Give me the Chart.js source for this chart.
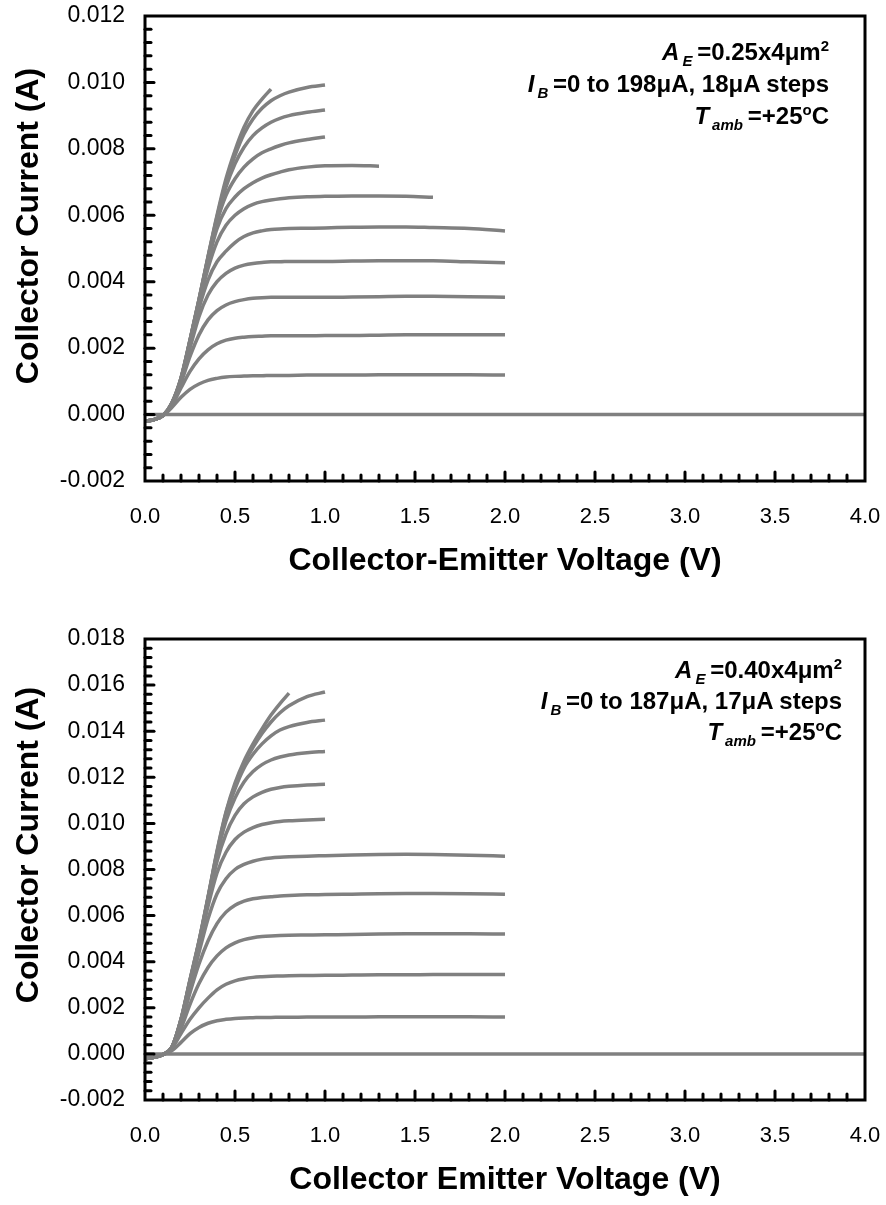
<!DOCTYPE html>
<html><head><meta charset="utf-8">
<script src="https://cdn.jsdelivr.net/npm/chart.js@4.4.1/dist/chart.umd.min.js"></script>
<style>
html,body{margin:0;padding:0;background:#fff;width:886px;height:1205px;overflow:hidden;font-family:"Liberation Sans",Arial,sans-serif;}
.wrap{position:absolute;left:0;width:886px;}
canvas{display:block;}
.note{position:absolute;text-align:right;font-weight:bold;font-size:24px;line-height:31px;color:#000;white-space:nowrap;}
.note i{font-style:italic;}
.note sub,.note sup{font-size:15px;line-height:0;}
</style></head>
<body>
<div class="wrap" style="top:0;height:600px"><canvas id="c1" width="886" height="600"></canvas></div>
<div class="wrap" style="top:620px;height:585px"><canvas id="c2" width="886" height="585"></canvas></div>
<div class="note" style="right:57px;top:36px;line-height:32px"><i>A</i><sub><i>&thinsp;E</i></sub>&thinsp;=0.25x4μm<sup>2</sup><br><i>I</i><sub><i>&thinsp;B</i></sub>&thinsp;=0 to 198μA, 18μA steps<br><i>T</i><sub><i>&thinsp;amb</i></sub>&thinsp;=+25<sup>o</sup>C</div>
<div class="note" style="right:44px;top:654px"><i>A</i><sub><i>&thinsp;E</i></sub>&thinsp;=0.40x4μm<sup>2</sup><br><i>I</i><sub><i>&thinsp;B</i></sub>&thinsp;=0 to 187μA, 17μA steps<br><i>T</i><sub><i>&thinsp;amb</i></sub>&thinsp;=+25<sup>o</sup>C</div>
<script>
// Collector-emitter voltage grid (V)
const vce = [0,0.05,0.1,0.15,0.2,0.25,0.3,0.35,0.4,0.45,0.5,0.55,0.6,0.65,0.7,0.75,0.8,0.9,1.0,1.15,1.3,1.45,1.6,1.8,2.0,2.5,3.0,3.5,4.0];

// Top chart: AE=0.25x4um2, IB = 0..198uA, 18uA steps. Collector current in mA.
const topIb000 = [0,0,0,0,0,0,0,0,0,0,0,0,0,0,0,0,0,0,0,0,0,0,0,0,0,0,0,0,0];
const topIb018 = [-0.20,-0.15,-0.03,0.22,0.52,0.76,0.92,1.03,1.09,1.13,1.15,1.16,1.17,1.17,1.18,1.18,1.18,1.19,1.19,1.19,1.20,1.20,1.20,1.20,1.19];
const topIb036 = [-0.20,-0.15,-0.03,0.27,0.80,1.30,1.68,1.95,2.13,2.24,2.30,2.33,2.35,2.36,2.37,2.37,2.37,2.37,2.38,2.38,2.39,2.40,2.40,2.40,2.40];
const topIb054 = [-0.20,-0.15,-0.03,0.30,0.95,1.75,2.40,2.85,3.13,3.30,3.40,3.46,3.50,3.52,3.53,3.53,3.53,3.53,3.53,3.54,3.55,3.56,3.56,3.55,3.53];
const topIb072 = [-0.20,-0.15,-0.03,0.32,1.00,2.00,2.95,3.60,4.00,4.25,4.41,4.50,4.55,4.58,4.60,4.60,4.61,4.61,4.61,4.62,4.63,4.63,4.63,4.60,4.57];
const topIb090 = [-0.20,-0.15,-0.03,0.33,1.03,2.12,3.20,4.05,4.60,4.92,5.18,5.36,5.47,5.53,5.57,5.59,5.60,5.61,5.62,5.64,5.65,5.65,5.63,5.60,5.53];
const topIb108 = [-0.20,-0.15,-0.03,0.34,1.05,2.17,3.35,4.40,5.20,5.70,6.00,6.20,6.33,6.41,6.46,6.50,6.53,6.56,6.57,6.58,6.58,6.57,6.54];
const topIb126 = [-0.20,-0.15,-0.03,0.34,1.07,2.20,3.40,4.60,5.60,6.20,6.55,6.80,6.98,7.12,7.22,7.30,7.37,7.45,7.49,7.50,7.48];
const topIb144 = [-0.20,-0.15,-0.03,0.35,1.08,2.22,3.43,4.68,5.80,6.60,7.10,7.45,7.70,7.88,8.00,8.10,8.18,8.28,8.36];
const topIb162 = [-0.20,-0.15,-0.03,0.35,1.09,2.23,3.45,4.72,5.90,6.85,7.55,8.05,8.40,8.63,8.80,8.92,9.00,9.10,9.17];
const topIb180 = [-0.20,-0.15,-0.03,0.36,1.10,2.24,3.46,4.74,5.95,7.00,7.80,8.45,8.90,9.22,9.45,9.60,9.71,9.85,9.92];
const topIb198 = [-0.20,-0.15,-0.03,0.36,1.10,2.25,3.47,4.75,6.00,7.10,7.95,8.65,9.15,9.50,9.80];

// Bottom chart: AE=0.40x4um2, IB = 0..187uA, 17uA steps. Collector current in mA.
const botIb000 = [0,0,0,0,0,0,0,0,0,0,0,0,0,0,0,0,0,0,0,0,0,0,0,0,0,0,0,0,0];
const botIb017 = [-0.20,-0.15,-0.03,0.15,0.50,0.88,1.15,1.33,1.44,1.50,1.54,1.56,1.57,1.58,1.58,1.59,1.59,1.60,1.60,1.60,1.61,1.61,1.61,1.61,1.60];
const botIb034 = [-0.20,-0.15,-0.03,0.25,0.88,1.50,2.00,2.42,2.78,3.02,3.17,3.26,3.32,3.35,3.37,3.38,3.39,3.40,3.41,3.42,3.43,3.43,3.44,3.44,3.44];
const botIb051 = [-0.20,-0.15,-0.03,0.28,1.10,2.15,3.05,3.75,4.25,4.60,4.82,4.96,5.04,5.09,5.12,5.14,5.15,5.16,5.17,5.18,5.20,5.21,5.21,5.21,5.20];
const botIb068 = [-0.20,-0.15,-0.03,0.29,1.25,2.65,3.90,4.90,5.65,6.15,6.45,6.63,6.73,6.79,6.82,6.85,6.87,6.90,6.91,6.93,6.95,6.96,6.96,6.95,6.93];
const botIb085 = [-0.20,-0.15,-0.03,0.30,1.35,2.90,4.40,5.85,6.95,7.60,8.00,8.22,8.36,8.45,8.50,8.53,8.55,8.58,8.60,8.63,8.65,8.66,8.65,8.62,8.58];
const botIb102 = [-0.20,-0.15,-0.03,0.30,1.40,3.00,4.65,6.40,7.85,8.75,9.30,9.62,9.82,9.95,10.03,10.08,10.11,10.15,10.18];
const botIb119 = [-0.20,-0.15,-0.03,0.30,1.45,3.10,4.78,6.62,8.35,9.55,10.35,10.85,11.15,11.35,11.48,11.56,11.61,11.67,11.70];
const botIb136 = [-0.20,-0.15,-0.03,0.30,1.48,3.15,4.83,6.72,8.62,10.10,11.10,11.80,12.25,12.55,12.75,12.88,12.97,13.07,13.12];
const botIb153 = [-0.20,-0.15,-0.03,0.30,1.50,3.18,4.86,6.75,8.70,10.35,11.50,12.40,13.00,13.45,13.80,14.05,14.20,14.38,14.48];
const botIb170 = [-0.20,-0.15,-0.03,0.30,1.50,3.20,4.88,6.78,8.75,10.45,11.65,12.60,13.30,13.90,14.40,14.80,15.10,15.50,15.70];
const botIb187 = [-0.20,-0.15,-0.03,0.30,1.50,3.22,4.90,6.80,8.80,10.50,11.75,12.70,13.45,14.10,14.70,15.20,15.65];

// Axis ranges / labels
const xMin = 0, xMax = 4, xStep = 0.5;
const topYMin = -0.002, topYMax = 0.012;
const botYMin = -0.002, botYMax = 0.018;
const yStep = 0.002;
const yTitle = 'Collector Current (A)';
const topXTitle = 'Collector-Emitter Voltage (V)';
const botXTitle = 'Collector Emitter Voltage (V)';

const FONT = '"Liberation Sans", Arial, sans-serif';

const framePlugin = {
  id: 'frame',
  afterDraw(chart, args, opts) {
    const {ctx, chartArea: a, scales: {x, y}} = chart;
    ctx.save();
    ctx.strokeStyle = '#000';
    ctx.lineWidth = 3;
    ctx.lineCap = 'round';
    const nx = Math.round((x.max - x.min) / 0.1);
    for (let k = 1; k < nx; k++) {
      const px = x.getPixelForValue(x.min + k * 0.1);
      const len = (k % 5 === 0) ? 9 : 6;
      ctx.beginPath(); ctx.moveTo(px, a.bottom); ctx.lineTo(px, a.bottom - len); ctx.stroke();
    }
    const ny = Math.round((y.max - y.min) / 0.0004);
    for (let k = 1; k < ny; k++) {
      const py = y.getPixelForValue(y.min + k * 0.0004);
      const len = (k % 5 === 0) ? 9 : 6;
      ctx.beginPath(); ctx.moveTo(a.left, py); ctx.lineTo(a.left + len, py); ctx.stroke();
    }
    ctx.lineCap = 'butt';
    ctx.strokeRect(a.left, a.top, a.right - a.left, a.bottom - a.top);
    ctx.fillStyle = '#000';
    ctx.font = 'bold 32px ' + FONT;
    ctx.textAlign = 'center';
    ctx.textBaseline = 'middle';
    ctx.translate(opts.titleX, a.top + opts.titleDy);
    ctx.rotate(-Math.PI / 2);
    ctx.fillText(opts.text, 0, 0);
    ctx.restore();
  }
};

function makeChart(id, curves, yMin, yMax, xTitle, padTop, xH, titlePadBottom, titleDy) {
  const datasets = curves.map(c => ({
    data: c.map((v, i) => ({x: vce[i], y: v / 1000})),
    borderColor: '#808080',
    borderWidth: 3.5,
    pointRadius: 0,
    fill: false,
    cubicInterpolationMode: 'monotone'
  }));
  return new Chart(document.getElementById(id), {
    type: 'line',
    data: {datasets},
    plugins: [framePlugin],
    options: {
      responsive: false,
      animation: false,
      devicePixelRatio: 1,
      events: [],
      layout: {padding: {top: padTop, right: 21, left: 0, bottom: 0}},
      plugins: {
        legend: {display: false},
        tooltip: {enabled: false},
        frame: {text: yTitle, titleX: 29, titleDy: titleDy}
      },
      scales: {
        x: {
          type: 'linear', min: xMin, max: xMax,
          ticks: {stepSize: xStep, color: '#000', font: {family: FONT, size: 22}, padding: 23,
                  maxRotation: 0, autoSkip: false, callback: v => Number(v).toFixed(1)},
          grid: {display: false, drawTicks: false},
          border: {display: false},
          title: {display: true, text: xTitle, color: '#000',
                  font: {family: FONT, size: 32, weight: 'bold'}, padding: {top: 0, bottom: titlePadBottom}},
          afterFit(s) { s.height = xH; s.paddingLeft = 0; s.paddingRight = 0; }
        },
        y: {
          type: 'linear', min: yMin, max: yMax,
          ticks: {stepSize: yStep, color: '#000', font: {family: FONT, size: 23}, padding: 20,
                  callback: v => (Math.abs(v) < 1e-9 ? 0 : v).toFixed(3)},
          grid: {display: false, drawTicks: false},
          border: {display: false},
          afterFit(s) { s.width = 145; s.paddingTop = 0; s.paddingBottom = 0; }
        }
      }
    }
  });
}

makeChart('c1',
  [topIb000, topIb018, topIb036, topIb054, topIb072, topIb090, topIb108, topIb126, topIb144, topIb162, topIb180, topIb198],
  topYMin, topYMax, topXTitle, 16, 119, 19.4, 210);
makeChart('c2',
  [botIb000, botIb017, botIb034, botIb051, botIb068, botIb085, botIb102, botIb119, botIb136, botIb153, botIb170, botIb187],
  botYMin, botYMax, botXTitle, 19, 105, 5.4, 206);
</script>
</body></html>
